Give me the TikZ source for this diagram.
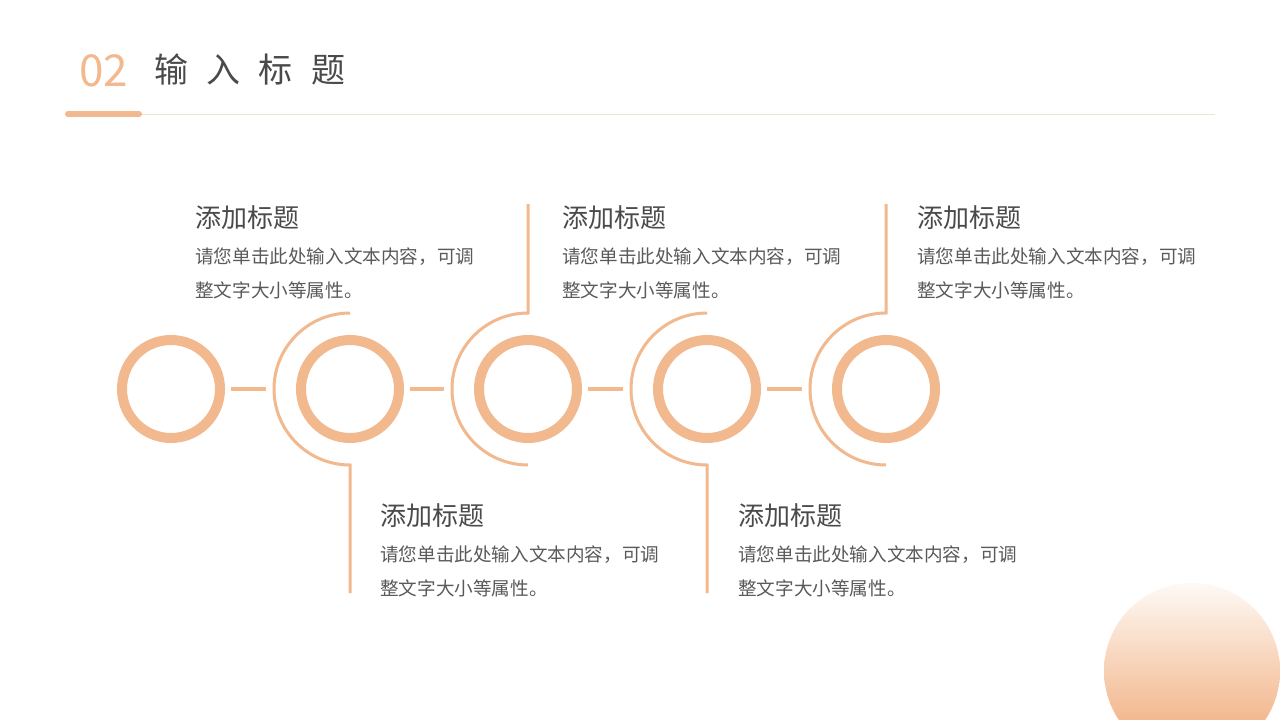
\documentclass[tikz,border=0pt]{standalone}
\usepackage{fontspec}
\setmainfont{Noto Sans CJK SC}
\usetikzlibrary{calc}
\definecolor{org}{HTML}{F2B88E}
\definecolor{orgdark}{HTML}{F0A672}
\definecolor{orglight}{HTML}{FEF9F5}
\definecolor{rulec}{HTML}{EDE4D8}
\definecolor{titlec}{HTML}{4A4A4A}
\definecolor{bodyc}{HTML}{5A5A5A}
\tikzset{
  ring/.style={circle, draw=org, line width=10pt, minimum size=98pt, inner sep=0pt},
  link/.style={draw=org, line width=3.5pt, shorten <=6pt, shorten >=30pt},
  arcline/.style={draw=org, line width=3pt},
  ttl/.style={anchor=base west, inner sep=0pt, text=titlec, font=\fontsize{26}{26}\selectfont},
  body/.style={anchor=base west, inner sep=0pt, text=bodyc, font=\fontsize{18.6}{18.6}\selectfont},
}
\begin{document}
\begin{tikzpicture}[x=1pt,y=-1pt]
\useasboundingbox (0,0) rectangle (1280,720);
\fill[white] (0,0) rectangle (1280,720);

% decorative gradient circle
\begin{scope}
\clip (0,0) rectangle (1280,720);
\shade[top color=orglight, bottom color=orgdark] (1192,671) circle[radius=88];
\end{scope}

% header
\node[anchor=base west, inner sep=0pt, text=org, font=\fontsize{44}{44}\selectfont] (num) at (79,86) {02};
\node[anchor=base west, inner sep=0pt, text=titlec, font=\fontsize{34}{34}\selectfont] (head) at (154,82) {输\hspace{18.3pt}入\hspace{18.3pt}标\hspace{18.3pt}题};
\coordinate (barL) at (68,114);
\coordinate (barR) at (139,114);
\coordinate (ruleR) at (1215,114);
\draw[rulec, line width=1pt] (barR) -- (ruleR);
\draw[org, line width=6pt, line cap=round] (barL) -- (barR);

% rings
\node[ring] (c1) at (171,389) {};
\node[ring] (c2) at (350,389) {};
\node[ring] (c3) at (528,389) {};
\node[ring] (c4) at (707,389) {};
\node[ring] (c5) at (886,389) {};

\draw[link] (c1) -- (c2);
\draw[link] (c2) -- (c3);
\draw[link] (c3) -- (c4);
\draw[link] (c4) -- (c5);

% arcs with leader lines
\draw[arcline] ($(c2)+(0,-76)$) arc[start angle=270, end angle=90, radius=76] -- ($(c2)+(0,204)$);
\draw[arcline] ($(c3)+(0,-185)$) -- ($(c3)+(0,-76)$) arc[start angle=270, end angle=90, radius=76];
\draw[arcline] ($(c4)+(0,-76)$) arc[start angle=270, end angle=90, radius=76] -- ($(c4)+(0,204)$);
\draw[arcline] ($(c5)+(0,-185)$) -- ($(c5)+(0,-76)$) arc[start angle=270, end angle=90, radius=76];

% text blocks (top)
\node[ttl] (t1) at (195,227) {添加标题};
\node[body] (b1a) at (195,263) {请您单击此处输入文本内容，可调};
\node[body] (b1b) at (195,297) {整文字大小等属性。};

\node[ttl] (t3) at (562,227) {添加标题};
\node[body] (b3a) at (562,263) {请您单击此处输入文本内容，可调};
\node[body] (b3b) at (562,297) {整文字大小等属性。};

\node[ttl] (t5) at (917,227) {添加标题};
\node[body] (b5a) at (917,263) {请您单击此处输入文本内容，可调};
\node[body] (b5b) at (917,297) {整文字大小等属性。};

% text blocks (bottom)
\node[ttl] (t2) at (380,525) {添加标题};
\node[body] (b2a) at (380,561) {请您单击此处输入文本内容，可调};
\node[body] (b2b) at (380,595) {整文字大小等属性。};

\node[ttl] (t4) at (738,525) {添加标题};
\node[body] (b4a) at (738,561) {请您单击此处输入文本内容，可调};
\node[body] (b4b) at (738,595) {整文字大小等属性。};
\end{tikzpicture}
\end{document}
